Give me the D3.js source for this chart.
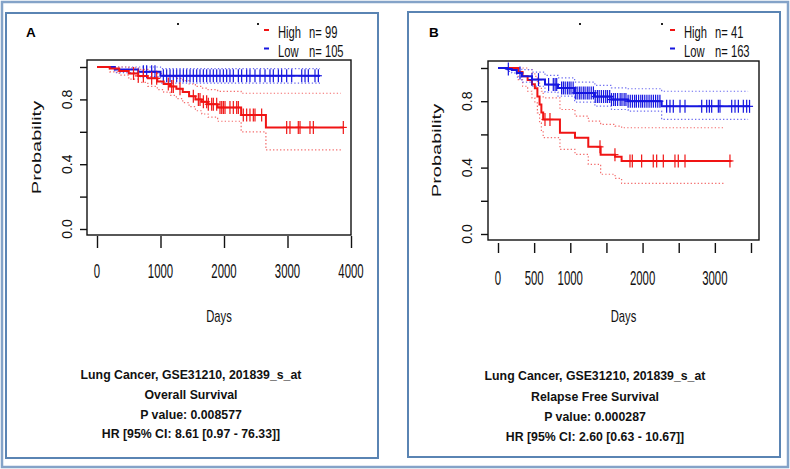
<!DOCTYPE html>
<html>
<head>
<meta charset="utf-8">
<script src="https://cdn.jsdelivr.net/npm/d3@7"></script>
<style>
  html, body { margin: 0; padding: 0; background: #fff; }
  svg { display: block; }
</style>
</head>
<body>
<svg id="chart" width="790" height="469"></svg>
<script>
// ---------------- DATA ----------------
// Panel A (Overall Survival)
const A_high_t  = [0, 200, 350, 500, 650, 800, 950, 1050, 1150, 1250, 1350, 1450, 1550, 1650, 1750, 1900, 2270, 2660];
const A_high_s  = [1.0, 0.99, 0.975, 0.96, 0.945, 0.93, 0.91, 0.895, 0.88, 0.865, 0.845, 0.82, 0.80, 0.785, 0.77, 0.75, 0.703, 0.627];
const A_high_up = [1.0, 1.0, 1.0, 0.995, 0.985, 0.975, 0.96, 0.95, 0.94, 0.93, 0.915, 0.895, 0.88, 0.87, 0.86, 0.85, 0.838, 0.838];
const A_high_lo = [1.0, 0.97, 0.95, 0.925, 0.905, 0.88, 0.86, 0.845, 0.825, 0.805, 0.78, 0.755, 0.73, 0.71, 0.69, 0.665, 0.60, 0.488];
const A_high_end = 3880, A_high_ciEnd = 3840;
const A_high_cens = [575, 650, 730, 861, 940, 1123, 1176, 1202, 1307, 1517, 1596, 1622, 1675, 1727, 1753, 1806, 1832, 1885, 1937, 1964, 1990, 2016, 2094, 2147, 2200, 2226, 2304, 2357, 2409, 2462, 2488, 2593, 2987, 3039, 3170, 3197, 3354, 3407, 3879];

const A_low_t  = [0, 280, 650, 1000];
const A_low_s  = [1.0, 0.985, 0.97, 0.946];
const A_low_up = [1.0, 1.0, 1.0, 0.99];
const A_low_lo = [1.0, 0.965, 0.94, 0.90];
const A_low_end = 3512, A_low_ciEnd = 3512;
const A_low_cens = [730, 782, 861, 913, 1045, 1097, 1150, 1202, 1255, 1307, 1360, 1412, 1465, 1517, 1570, 1622, 1675, 1727, 1780, 1832, 1885, 1937, 1990, 2042, 2094, 2147, 2226, 2278, 2357, 2409, 2488, 2567, 2646, 2724, 2777, 2856, 2908, 2987, 3066, 3224, 3276, 3328, 3433, 3486];

const A_xticks = [0, 1000, 2000, 3000, 4000];
const A_xlabels = ["0", "1000", "2000", "3000", "4000"];
const A_legend = ["High  n= 99", "Low   n= 105"];
const A_footer = ["Lung Cancer, GSE31210, 201839_s_at", "Overall Survival", "P value: 0.008577", "HR [95% CI: 8.61 [0.97 - 76.33]]"];

// Panel B (Relapse Free Survival)
const B_high_t  = [0, 280, 340, 410, 470, 510, 545, 575, 600, 625, 857, 1065, 1249, 1420, 1620, 1710];
const B_high_s  = [1.0, 0.976, 0.951, 0.927, 0.902, 0.878, 0.829, 0.78, 0.732, 0.69, 0.61, 0.58, 0.525, 0.478, 0.465, 0.44];
const B_high_up = [1.0, 1.0, 1.0, 0.99, 0.97, 0.95, 0.92, 0.89, 0.86, 0.82, 0.75, 0.71, 0.68, 0.66, 0.65, 0.64];
const B_high_lo = [1.0, 0.93, 0.89, 0.86, 0.82, 0.79, 0.73, 0.67, 0.62, 0.58, 0.51, 0.48, 0.42, 0.36, 0.335, 0.305];
const B_high_end = 3230, B_high_ciEnd = 3140;
const B_high_cens = [650, 719, 1411, 1618, 1826, 1858, 1987, 2148, 2195, 2287, 2448, 2494, 2587, 3209];

const B_low_t  = [0, 130, 190, 260, 330, 470, 650, 830, 1060, 1340, 1570, 1800, 2264];
const B_low_s  = [1.0, 0.994, 0.988, 0.97, 0.95, 0.93, 0.90, 0.88, 0.85, 0.828, 0.81, 0.80, 0.769];
const B_low_up = [1.0, 1.0, 1.0, 1.0, 0.99, 0.975, 0.955, 0.94, 0.915, 0.895, 0.88, 0.875, 0.86];
const B_low_lo = [1.0, 0.98, 0.97, 0.945, 0.915, 0.89, 0.855, 0.83, 0.795, 0.77, 0.75, 0.74, 0.69];
const B_low_end = 3480, B_low_ciEnd = 3460;
const B_low_cens = [143, 304, 470, 560, 700, 765, 790, 812, 880, 905, 930, 960, 985, 1010, 1040, 1070, 1095, 1125, 1150, 1180, 1205, 1235, 1260, 1290, 1320, 1345, 1375, 1400, 1430, 1460, 1490, 1515, 1545, 1570, 1600, 1625, 1655, 1690, 1715, 1745, 1770, 1800, 1830, 1860, 1890, 1915, 1945, 1975, 2000, 2030, 2060, 2090, 2120, 2150, 2180, 2210, 2240, 2333, 2379, 2425, 2518, 2587, 2818, 2887, 2924, 2956, 3048, 3071, 3233, 3279, 3325, 3394, 3440, 3480];

const B_xticks = [0, 500, 1000, 1500, 2000, 2500, 3000, 3500];
const B_xlabels = ["0", "500", "1000", "", "2000", "", "3000", ""];
const B_legend = ["High  n= 41", "Low   n= 163"];
const B_footer = ["Lung Cancer, GSE31210, 201839_s_at", "Relapse Free Survival", "P value: 0.000287", "HR [95% CI: 2.60 [0.63 - 10.67]]"];

const yticks = [0, 0.2, 0.4, 0.6, 0.8, 1.0];
const ylabels = ["0.0", "", "0.4", "", "0.8", ""];

// ---------------- DRAW ----------------
const svg = d3.select("#chart");
svg.append("rect").attr("width", 790).attr("height", 469).attr("fill", "#fff");

// outer frame
svg.append("rect").attr("x", 2).attr("y", 2).attr("width", 786).attr("height", 465)
  .attr("fill", "none").attr("stroke", "#84a3c8").attr("stroke-width", 2.5);

const RED = "#f01414", BLUE = "#1616e0", RED_CI = "#f36b6b", BLUE_CI = "#6a6af0";

function panel(cfg) {
  const g = svg.append("g");
  // panel frame
  g.append("rect").attr("x", cfg.frame[0]).attr("y", cfg.frame[1])
    .attr("width", cfg.frame[2] - cfg.frame[0]).attr("height", cfg.frame[3] - cfg.frame[1])
    .attr("fill", "none").attr("stroke", "#5a84b3").attr("stroke-width", 2);

  const x = d3.scaleLinear().domain([0, cfg.xmax]).range([cfg.x0, cfg.x1]);
  const y = d3.scaleLinear().domain([0, 1]).range([cfg.y0, cfg.y1]);

  // plot box
  g.append("rect").attr("x", cfg.box[0]).attr("y", cfg.box[1])
    .attr("width", cfg.box[2] - cfg.box[0]).attr("height", cfg.box[3] - cfg.box[1])
    .attr("fill", "none").attr("stroke", "#111").attr("stroke-width", 1.4);

  // x axis
  const xa = g.append("g").attr("transform", `translate(0,${cfg.xTickTop})`)
    .call(d3.axisBottom(x).tickValues(cfg.xticks).tickSize(cfg.xTickLen).tickSizeOuter(0).tickFormat(""));
  xa.select(".domain").remove();
  xa.selectAll("line").attr("stroke", "#111").attr("stroke-width", 1.4);
  g.selectAll(".xl").data(cfg.xticks).enter().append("text")
    .attr("transform", (d) => `translate(${x(d)},${cfg.xLabBase}) scale(0.57,1)`)
    .attr("text-anchor", "middle").attr("font-family", "Liberation Sans, Arial, sans-serif")
    .attr("font-size", 20).attr("fill", "#111")
    .text((d, i) => cfg.xlabels[i]);

  // y axis
  const ya = g.append("g").attr("transform", `translate(${cfg.box[0]},0)`)
    .call(d3.axisLeft(y).tickValues(yticks).tickSize(7).tickSizeOuter(0).tickFormat(""));
  ya.select(".domain").remove();
  ya.selectAll("line").attr("stroke", "#111").attr("stroke-width", 1.4);
  g.selectAll(".yl").data(yticks).enter().append("text")
    .attr("transform", (d) => `translate(${cfg.yLabBase},${y(d)}) rotate(-90)`)
    .attr("text-anchor", "middle").attr("font-family", "Liberation Sans, Arial, sans-serif")
    .attr("font-size", 14).attr("fill", "#111")
    .text((d, i) => ylabels[i]);

  // axis titles
  g.append("text").attr("transform", `translate(${cfg.probX},${(cfg.box[1] + cfg.box[3]) / 2}) rotate(-90) scale(1,0.65)`)
    .attr("text-anchor", "middle").attr("font-family", "Liberation Sans, Arial, sans-serif")
    .attr("font-size", 20).attr("fill", "#111").text("Probability");
  g.append("text").attr("transform", `translate(${(cfg.box[0] + cfg.box[2]) / 2},${cfg.daysBase}) scale(0.66,1)`)
    .attr("text-anchor", "middle").attr("font-family", "Liberation Sans, Arial, sans-serif")
    .attr("font-size", 17).attr("fill", "#111").text("Days");

  // panel letter
  g.append("text").attr("x", cfg.letterX).attr("y", 37).attr("font-family", "Liberation Sans, Arial, sans-serif")
    .attr("font-weight", "bold").attr("font-size", 13.5).attr("fill", "#000").text(cfg.letter);

  // stray dots
  cfg.dots.forEach((dx) => g.append("rect").attr("x", dx - 1).attr("y", 23).attr("width", 2).attr("height", 2).attr("fill", "#222"));

  // legend
  const legColors = [RED, BLUE];
  cfg.legend.forEach((txt, i) => {
    const by = [38, 56.5][i];
    g.append("rect").attr("x", cfg.legX - 3).attr("y", by - 9).attr("width", 5).attr("height", 2).attr("fill", legColors[i]);
    const parts = txt.split(/\s{2,}/);
    g.append("text").attr("transform", `translate(${cfg.legX + 11},${by}) scale(0.68,1)`)
      .attr("font-family", "Liberation Sans, Arial, sans-serif").attr("font-size", 16.5).attr("fill", "#111").text(parts[0]);
    g.append("text").attr("transform", `translate(${cfg.legX + 42},${by}) scale(0.68,1)`)
      .attr("font-family", "Liberation Sans, Arial, sans-serif").attr("font-size", 16.5).attr("fill", "#111").text(parts[1]);
  });

  // footer
  cfg.footer.forEach((txt, i) => {
    g.append("text").attr("x", cfg.footX).attr("y", cfg.footY[i]).attr("text-anchor", "middle")
      .attr("font-family", "Liberation Sans, Arial, sans-serif").attr("font-weight", "bold")
      .attr("font-size", 12.3).attr("fill", "#111").text(txt);
  });

  // curves
  const stepLine = d3.line().x((d) => x(d[0])).y((d) => y(d[1])).curve(d3.curveStepAfter);
  function pts(t, v, end) {
    const p = t.map((tt, i) => [tt, v[i]]);
    p.push([end, v[v.length - 1]]);
    return p;
  }
  function survAt(t, s, tt) {
    let v = s[0];
    for (let i = 0; i < t.length; i++) if (t[i] <= tt) v = s[i];
    return v;
  }
  cfg.series.forEach((s) => {
    [s.up, s.lo].forEach((arr) => {
      g.append("path").attr("d", stepLine(pts(s.t, arr, s.ciEnd))).attr("fill", "none")
        .attr("stroke", s.ci).attr("stroke-width", 1.2).attr("stroke-dasharray", "1.3,2.2");
    });
  });
  cfg.series.forEach((s) => {
    g.append("path").attr("d", stepLine(pts(s.t, s.s, s.end))).attr("fill", "none")
      .attr("stroke", s.color).attr("stroke-width", 2);
    const cg = g.append("g").attr("stroke", s.color).attr("stroke-width", 1.2);
    s.cens.forEach((c) => {
      const cx = x(c), cy = y(survAt(s.t, s.s, c));
      cg.append("line").attr("x1", cx).attr("x2", cx).attr("y1", cy - 6.5).attr("y2", cy + 6.5);
      cg.append("line").attr("x1", cx - 3.5).attr("x2", cx + 3.5).attr("y1", cy).attr("y2", cy);
    });
  });
}

panel({
  frame: [6, 13, 378, 458], box: [87, 60, 351, 235],
  xmax: 4000, x0: 97, x1: 351, y0: 229, y1: 67,
  xticks: A_xticks, xlabels: A_xlabels, xTickTop: 236, xTickLen: 12, xLabBase: 278,
  yLabBase: 72, probX: 41, daysBase: 322, letter: "A", letterX: 26,
  dots: [178, 258], legX: 267, legend: A_legend,
  footer: A_footer, footX: 191, footY: [379, 399, 419, 438],
  series: [
    { t: A_low_t, s: A_low_s, up: A_low_up, lo: A_low_lo, end: A_low_end, ciEnd: A_low_ciEnd, cens: A_low_cens, color: BLUE, ci: BLUE_CI },
    { t: A_high_t, s: A_high_s, up: A_high_up, lo: A_high_lo, end: A_high_end, ciEnd: A_high_ciEnd, cens: A_high_cens, color: RED, ci: RED_CI }
  ]
});

panel({
  frame: [408, 12, 780, 457], box: [488, 61, 759, 240],
  xmax: 3500, x0: 498, x1: 751, y0: 234, y1: 68,
  xticks: B_xticks, xlabels: B_xlabels, xTickTop: 243, xTickLen: 10, xLabBase: 285,
  yLabBase: 472, probX: 441, daysBase: 322, letter: "B", letterX: 429,
  dots: [580, 662], legX: 673, legend: B_legend,
  footer: B_footer, footX: 595, footY: [380, 401, 421, 441],
  series: [
    { t: B_high_t, s: B_high_s, up: B_high_up, lo: B_high_lo, end: B_high_end, ciEnd: B_high_ciEnd, cens: B_high_cens, color: RED, ci: RED_CI },
    { t: B_low_t, s: B_low_s, up: B_low_up, lo: B_low_lo, end: B_low_end, ciEnd: B_low_ciEnd, cens: B_low_cens, color: BLUE, ci: BLUE_CI }
  ]
});
</script>
</body>
</html>
